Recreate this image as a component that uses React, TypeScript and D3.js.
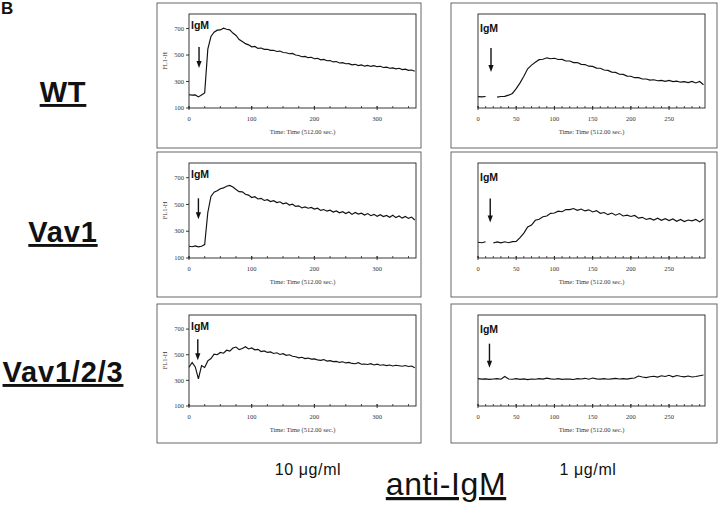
import React from "react";
import * as d3 from "d3";

// ---------- data ----------
const rowLabels = ["WT", "Vav1", "Vav1/2/3"];
const doseLabels = ["10 μg/ml", "1 μg/ml"];
const yTickValues = [100, 300, 500, 700];
const leftMajorTicks = [0, 100, 200, 300];
const rightMajorTicks = [0, 50, 100, 150, 200, 250];
const leftTimes = d3.range(0, 361, 5);
const rightTimes = d3.range(0, 296, 5);

const wt10 = [200,197,199,184,199,214,545,640,672,688,690,703,695,690,666,648,617,602,586,577,562,565,550,553,543,544,535,536,527,530,519,517,510,512,500,497,487,490,480,483,472,475,464,467,457,459,448,451,440,443,434,435,426,430,420,425,416,422,414,420,412,415,406,409,400,403,396,400,390,393,384,387,378];
const vav1_10 = [188,184,190,183,188,200,440,560,592,602,618,624,636,642,630,612,596,594,576,570,552,558,541,546,530,536,522,528,514,520,505,512,496,502,486,490,474,482,472,478,466,472,456,462,450,457,443,452,438,446,432,444,426,440,428,435,421,432,416,426,412,424,410,418,404,420,402,414,398,410,396,406,384];
const vav123_10 = [402,440,405,312,415,400,452,470,505,500,518,512,535,528,552,560,540,548,562,545,553,538,542,525,530,518,522,510,515,502,508,495,500,488,484,476,480,470,474,466,468,460,456,462,450,454,446,448,440,445,436,440,432,430,438,426,428,424,430,420,426,418,422,415,420,412,418,414,410,416,408,412,398];
const wt1 = [186,184,187,null,null,182,187,188,197,210,246,290,340,396,424,445,465,468,479,472,476,466,467,455,455,443,443,430,428,416,414,401,400,387,384,371,369,355,354,341,340,329,329,319,319,311,313,306,309,301,308,299,303,295,299,292,301,289,300,276];
const vav1_1 = [218,214,221,null,212,220,213,221,214,222,224,252,286,332,346,382,390,408,414,434,436,450,446,462,462,470,456,466,452,460,444,454,434,440,424,436,420,432,414,420,410,418,398,404,388,396,384,398,382,394,380,392,374,388,372,384,378,388,370,392];
const vav123_1 = [314,310,312,308,311,313,309,330,311,309,313,308,312,306,311,309,314,310,317,312,309,313,308,311,310,307,314,311,316,309,318,312,310,313,309,312,315,311,313,310,316,318,334,326,322,328,332,326,336,330,340,328,338,332,327,334,326,330,336,342];

const leftSeries = [wt10, vav1_10, vav123_10];
const rightSeries = [wt1, vav1_1, vav123_1];
const leftArrowTimes = [16, 15, 14];
const rightArrowTimes = [17, 16, 15];
const leftArrowTips = [402, 389, 456];
const rightArrowTips = [372, 366, 399];

// ---------- layout ----------
const rowTop = [3, 152, 304];
const rowH = [145, 145, 139];
const plotTopOff = 11;
const plotH = [94, 95, 91];
const sans = "'Liberation Sans', Arial, Helvetica, sans-serif";
const serif = "'Liberation Serif', 'Times New Roman', serif";

type PanelProps = {
  ox: number; ow: number; oy: number; oh: number;
  px: number; pw: number; py: number; ph: number;
  xMax: number; majors: number[]; minorStep: number; showY: boolean;
  values: (number | null)[]; times: number[];
  arrowT: number; arrowV: number; arrowLen: number; igmDy: number;
};

function Panel(p: PanelProps) {
  const x = d3.scaleLinear().domain([0, p.xMax]).range([p.px, p.px + p.pw]);
  const y = d3.scaleLinear().domain([100, 810]).range([p.py + p.ph, p.py]);
  const line = d3
    .line<number | null>()
    .defined((d) => d != null)
    .x((_, i) => x(p.times[i]))
    .y((d) => y(d as number));
  const minors = d3.range(0, p.xMax + 0.01, p.minorStep);
  const axisY = p.py + p.ph;
  const ax = x(p.arrowT);
  const tip = y(p.arrowV);
  return (
    <g>
      <rect x={p.ox} y={p.oy} width={p.ow} height={p.oh} fill="none" stroke="#666" strokeWidth={1} />
      <rect x={p.px} y={p.py} width={p.pw} height={p.ph} fill="none" stroke="#222" strokeWidth={0.9} />
      {minors.map((m) => (
        <line key={"mi" + m} x1={x(m)} x2={x(m)} y1={axisY} y2={axisY - 2} stroke="#222" strokeWidth={0.8} />
      ))}
      {p.majors.map((m) => (
        <g key={"ma" + m}>
          <line x1={x(m)} x2={x(m)} y1={axisY - 2} y2={axisY + 2} stroke="#222" strokeWidth={0.9} />
          <text x={x(m)} y={axisY + 13} fontFamily={serif} fontSize={6.5} textAnchor="middle" fill="#333">
            {m}
          </text>
        </g>
      ))}
      <text x={p.px + p.pw / 2} y={axisY + 26} fontFamily={serif} fontSize={6.5} textAnchor="middle" fill="#333">
        Time: Time (512.00 sec.)
      </text>
      {p.showY && (
        <g>
          {yTickValues.map((v) => (
            <g key={"y" + v}>
              <line x1={p.px - 3} x2={p.px} y1={y(v)} y2={y(v)} stroke="#222" strokeWidth={0.9} />
              <text x={p.px - 5} y={y(v) + 2.2} fontFamily={serif} fontSize={6.5} textAnchor="end" fill="#333">
                {v}
              </text>
            </g>
          ))}
          <text
            transform={`translate(${p.ox + 10},${p.py + p.ph / 2}) rotate(-90)`}
            fontFamily={serif}
            fontSize={6.5}
            textAnchor="middle"
            fill="#333"
          >
            FL1-H
          </text>
        </g>
      )}
      <path d={line(p.values) || ""} fill="none" stroke="#111" strokeWidth={1.15} strokeLinejoin="miter" />
      <text x={p.px + 2} y={p.py + p.igmDy} fontFamily={sans} fontSize={10.5} fontWeight="bold" fill="#111">
        IgM
      </text>
      <line x1={ax} x2={ax} y1={tip - p.arrowLen} y2={tip - 6} stroke="#111" strokeWidth={1.4} />
      <path d={`M${ax - 2.6},${tip - 7} L${ax + 2.6},${tip - 7} L${ax},${tip} Z`} fill="#111" />
    </g>
  );
}

export default function App() {
  const rowLabelY = [102, 242, 382];
  return (
    <svg
      width={720}
      height={510}
      viewBox="0 0 720 510"
      style={{ position: "absolute", left: 0, top: 0, background: "#fff" }}
    >
      <rect x={0} y={0} width={720} height={510} fill="#fff" />
      <text x={1} y={14} fontFamily={sans} fontSize={17} fontWeight="bold" fill="#111">
        B
      </text>
      {rowLabels.map((lab, i) => (
        <text
          key={lab}
          x={63}
          y={rowLabelY[i]}
          fontFamily={sans}
          fontSize={29}
          fontWeight="bold"
          textAnchor="middle"
          letterSpacing={0.8}
          textDecoration="underline"
          fill="#111"
        >
          {lab}
        </text>
      ))}
      {rowTop.map((top, i) => (
        <g key={"row" + i}>
          <Panel
            ox={157} ow={264} oy={top} oh={rowH[i]}
            px={189} pw={227} py={top + plotTopOff} ph={plotH[i]}
            xMax={362} majors={leftMajorTicks} minorStep={25} showY={true}
            values={leftSeries[i]} times={leftTimes}
            arrowT={leftArrowTimes[i]} arrowV={leftArrowTips[i]} arrowLen={21} igmDy={15}
          />
          <Panel
            ox={451} ow={266} oy={top} oh={rowH[i]}
            px={478} pw={227} py={top + plotTopOff} ph={plotH[i]}
            xMax={297} majors={rightMajorTicks} minorStep={10} showY={false}
            values={rightSeries[i]} times={rightTimes}
            arrowT={rightArrowTimes[i]} arrowV={rightArrowTips[i]} arrowLen={24} igmDy={18}
          />
        </g>
      ))}
      <text x={308} y={475} fontFamily={sans} fontSize={16} textAnchor="middle" letterSpacing={0.6} fill="#111">
        {doseLabels[0]}
      </text>
      <text x={588} y={475} fontFamily={sans} fontSize={16} textAnchor="middle" letterSpacing={0.6} fill="#111">
        {doseLabels[1]}
      </text>
      <text
        x={446}
        y={495}
        fontFamily={sans}
        fontSize={32}
        textAnchor="middle"
        letterSpacing={0.6}
        textDecoration="underline"
        fill="#111"
      >
        anti-IgM
      </text>
    </svg>
  );
}
